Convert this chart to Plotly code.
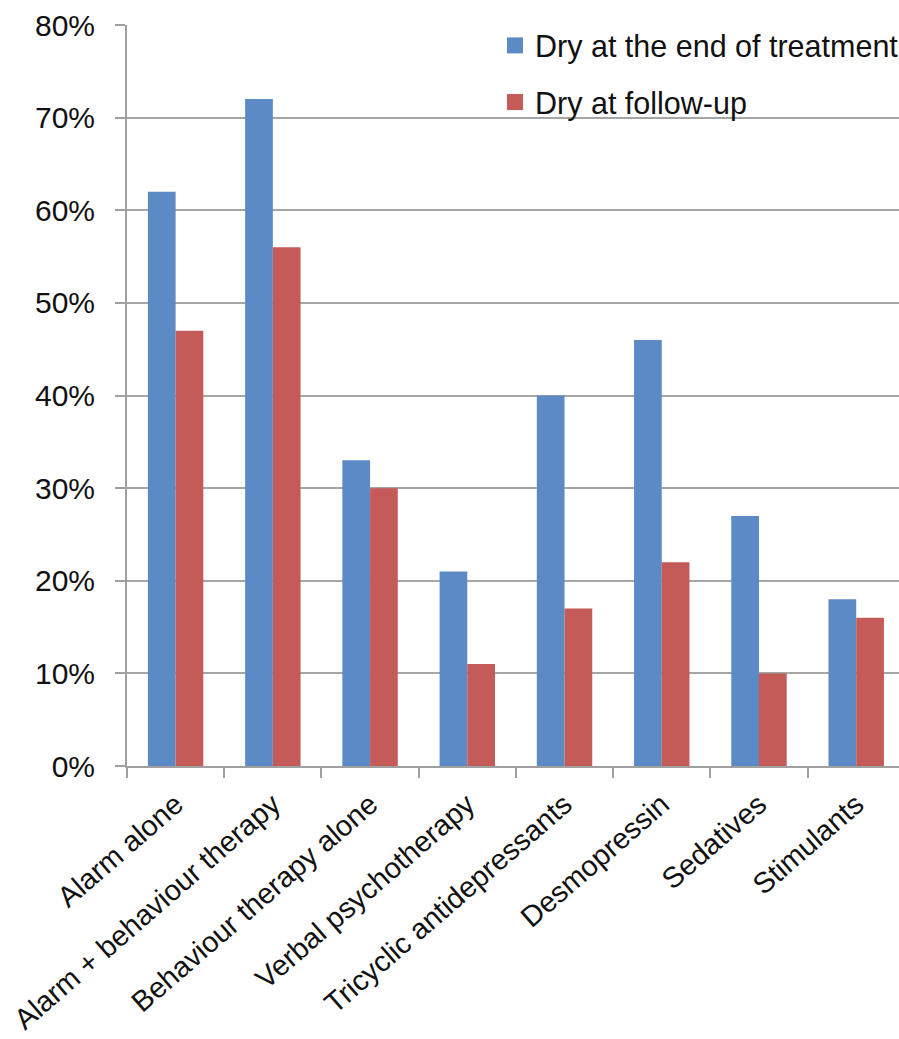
import plotly.graph_objects as go

categories = ["Alarm alone", "Alarm + behaviour therapy", "Behaviour therapy alone",
              "Verbal psychotherapy", "Tricyclic antidepressants", "Desmopressin",
              "Sedatives", "Stimulants"]
dry_end = [62, 72, 33, 21, 40, 46, 27, 18]
dry_follow = [47, 56, 30, 11, 17, 22, 10, 16]
series_names = ["Dry at the end of treatment", "Dry at follow-up"]
colors = ["#5B8AC5", "#C55B58"]
y_ticks = [0, 10, 20, 30, 40, 50, 60, 70, 80]
y_tick_text = [f"{v}%" for v in y_ticks]

FONT = "Liberation Sans, Arial, sans-serif"

fig = go.Figure()
for i, (name, vals) in enumerate(zip(series_names, [dry_end, dry_follow])):
    fig.add_trace(go.Bar(
        x=categories, y=vals, name=name, marker_color=colors[i],
        marker_line_width=0, showlegend=False,
    ))
    # legend proxy with larger square symbol
    fig.add_trace(go.Scatter(
        x=[None], y=[None], mode="markers", name=name,
        marker=dict(symbol="square", size=19, color=colors[i]),
        legendgroup=f"g{i}",
    ))

fig.update_layout(
    width=899, height=1039,
    margin=dict(l=127, r=0, t=25, b=273, autoexpand=False),
    paper_bgcolor="white", plot_bgcolor="white",
    barmode="group", bargap=0.43, bargroupgap=0,
    font=dict(family=FONT, size=30, color="#111111"),
    legend=dict(x=1.0065, xanchor="right", y=1.008, yanchor="top",
                bgcolor="rgba(0,0,0,0)", tracegroupgap=14,
                font=dict(size=30.5), itemwidth=30),
    xaxis=dict(
        type="category", range=[-0.5, 7.44], tickson="boundaries",
        ticks="outside", ticklen=10, tickcolor="#A0A0A0", tickwidth=2,
        showline=True, linecolor="#A0A0A0", linewidth=2,
        tickangle=-41, showgrid=False, automargin=False,
        ticklabelstandoff=8,
        tickfont=dict(size=29, family=FONT),
    ),
    yaxis=dict(
        range=[0, 80], tickvals=y_ticks, ticktext=y_tick_text,
        ticks="outside", ticklen=10, tickcolor="#A0A0A0", tickwidth=2,
        showline=True, linecolor="#A0A0A0", linewidth=2,
        showgrid=True, gridcolor="#A6A6A6", gridwidth=1.5,
        zeroline=False, ticklabelstandoff=14, automargin=False,
        tickfont=dict(size=30, family=FONT),
    ),
)

fig.write_html("out.html")
